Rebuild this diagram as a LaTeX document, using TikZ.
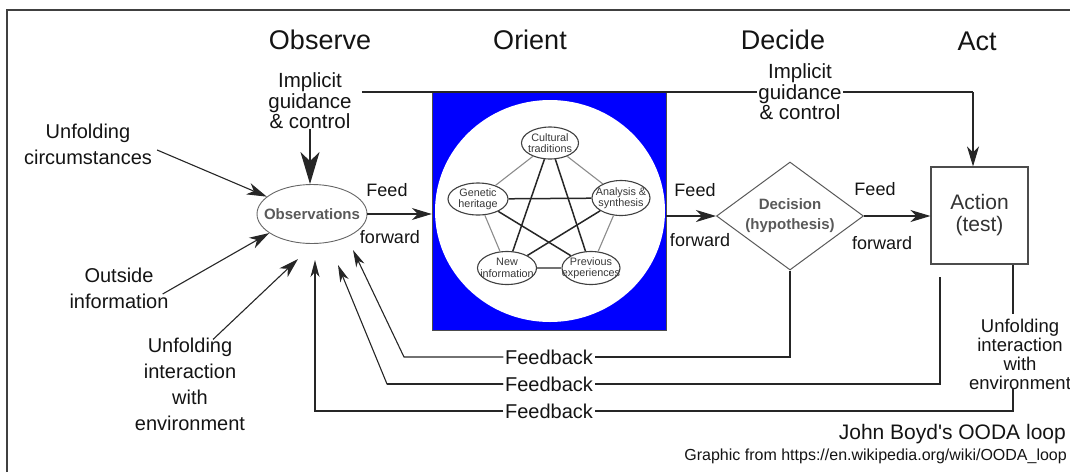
\documentclass[tikz,border=0pt]{standalone}
\usepackage{fontspec}
\setmainfont{Liberation Sans}
\usetikzlibrary{arrows.meta,shapes.geometric,calc}
\newcommand\fsz[2]{\fontsize{#1}{#2}\selectfont}
\begin{document}
\begin{tikzpicture}[x=1pt,y=-1pt,
  ln/.style={draw=black!85, line width=1.1pt},
  arr/.style={ln,-{Stealth[length=20pt,width=12pt,inset=6pt]}},
  arrbig/.style={ln,line width=1.6pt,-{Stealth[length=32pt,width=19pt,inset=9pt]}},
  arrfb/.style={ln,-{Stealth[length=17pt,width=9pt,inset=5pt]}},
  txt/.style={inner sep=0pt,align=center,text=black!92},
  ttl/.style={txt,font=\fsz{27}{30}},
  lab/.style={txt,font=\fsz{20}{26}},
  gd/.style={txt,font=\fsz{20.5}{20.5}},
  ff/.style={txt,font=\fsz{18}{18}},
  fbk/.style={txt,font=\fsz{20}{20},inner sep=1.5pt},
  pnode/.style={ellipse,draw=black!75,line width=1.1pt,fill=white,minimum width=58pt,minimum height=32pt,inner sep=0pt},
  ptx/.style={txt,font=\fsz{10.8}{11.5},text=black!78},
  gtx/.style={txt,font=\bfseries\fsz{15}{20},text=black!65},
  pedge/.style={draw=black!45,line width=1.1pt},
  sedge/.style={draw=black!85,line width=1.5pt},
]
\useasboundingbox (0,0) rectangle (1070,472);
% frame
\draw[draw=black!75,line width=1.3pt] (7,472) -- (7,10) -- (1070,10);

% titles
\node[ttl] (tObs) at (320,40) {Observe};
\node[ttl] (tOri) at (530,40) {Orient};
\node[ttl] (tDec) at (783,40) {Decide};
\node[ttl] (tAct) at (977,41) {Act};

% orient block
\node[draw=black!70,fill=blue,minimum width=234pt,minimum height=238pt,inner sep=0pt] (orient) at (549,211) {};
\node[ellipse,fill=white,minimum width=230pt,minimum height=222pt,inner sep=0pt] (orc) at (550,211) {};
\node[pnode,minimum width=57pt,label={[ptx]center:Cultural\\traditions}] (cul) at (550,143) {};
\node[pnode,minimum width=60pt,label={[ptx]center:Genetic\\heritage}] (gen) at (478,199) {};
\node[pnode,minimum height=35pt,label={[ptx]center:Analysis \&\\synthesis}] (ana) at (621,198) {};
\node[pnode,minimum width=59pt,minimum height=33pt,label={[ptx]center:New\\information}] (new) at (507,268) {};
\node[pnode,minimum height=33pt,label={[ptx]center:Previous\\experiences}] (prev) at (591,268) {};
\draw[pedge] (cul) -- (gen);
\draw[pedge] (cul) -- (ana);
\draw[pedge] (gen) -- (new);
\draw[pedge] (ana) -- (prev);
\draw[pedge,draw=black!55,line width=1.4pt] (new) -- (prev);
\draw[sedge] (cul) -- (new);
\draw[sedge] (cul) -- (prev);
\draw[sedge] (gen) -- (ana);
\draw[sedge] (gen) -- (prev);
\draw[sedge] (ana) -- (new);

% main nodes
\node[ellipse,draw=black!60,line width=0.9pt,minimum width=110pt,minimum height=59pt,inner sep=0pt,
      label={[gtx]center:Observations}] (obs) at (312,214) {};
\node[diamond,draw=black!65,line width=1pt,minimum width=147pt,minimum height=108pt,inner sep=0pt,
      label={[gtx]center:Decision\\(hypothesis)}] (dec) at (790,216) {};
\node[txt,draw=black!70,line width=1.1pt,minimum width=97pt,minimum height=97pt,
      font=\fsz{21}{22},text=black!80] (act) at (979.5,215.5) {Action\\(test)};

% feed forward
\draw[arr] (obs.east) -- (orient.west |- obs.east);
\draw[arr] (orient.east |- dec.west) -- (dec.west);
\draw[arr] (dec.east) -- (act.west |- dec.east);
\node[ff] (ffa1) at (387,190) {Feed};
\node[ff] (ffa2) at (390,237) {forward};
\node[ff] (ffb1) at (695,190) {Feed};
\node[ff] (ffb2) at (700,240) {forward};
\node[ff] (ffc1) at (875,189) {Feed};
\node[ff] (ffc2) at (882,243) {forward};

% implicit guidance
\node[gd] (implL) at (310,101) {Implicit\\guidance\\\& control};
\coordinate (gc) at (973,92);
\draw[ln] ($(implL.east)+(10,-9)$) -- (gc);
\draw[arr] (gc) -- (gc |- act.north);
\node[gd,fill=white,inner sep=1pt] (implR) at (800,92) {Implicit\\guidance\\\& control};
\draw[arrbig] (implL.south) -- (implL.south |- obs.north);

% inputs
\node[lab] (circ) at (88,144) {Unfolding\\circumstances};
\node[lab] (outs) at (119,288) {Outside\\information};
\node[lab] (uiL) at (190,384) {Unfolding\\interaction\\with\\environment};
\node[txt,font=\fsz{18.5}{19}] (uiR) at (1020,354) {Unfolding\\interaction\\with\\environment};
\draw[arr] ([shift={(5,6)}]circ.east) -- (obs.159);
\draw[arr] ([shift={(-6,6)}]outs.east) -- (obs.204);
\coordinate (inUI) at (298,259);
\draw[arr] ([shift={(23,2)}]uiL.north) -- (inUI);

% feedback
\node[fbk] (fb1) at (549,357) {Feedback};
\node[fbk] (fb2) at (549,384) {Feedback};
\node[fbk] (fb3) at (549,411) {Feedback};
\coordinate (inF1) at (353,250);
\coordinate (inF2) at (338,265);
\coordinate (inF3) at (315,260);
\coordinate (b1) at (404,357);
\coordinate (b2) at (387,384);
\coordinate (a2) at (940,277);
\draw[ln] (dec.south) |- (fb1.east);
\draw[arrfb] (fb1.west) -- (b1) -- (inF1);
\draw[ln] (a2) |- (fb2.east);
\draw[arrfb] (fb2.west) -- (b2) -- (inF2);
\draw[ln,line width=2pt] (fb2.west) -- (b2);
\draw[ln] ([shift={(-7,-2)}]uiR.south) |- (fb3.east);
\draw[arrfb] (fb3.west) -| (inF3);
\draw[ln] ([xshift=33.5pt]act.south) -- ([xshift=33.5pt,yshift=5pt]act.south |- uiR.north);

% credits
\node[txt,anchor=east,font=\fsz{21}{21}] (jb) at (1066,434) {John Boyd\textquotesingle s OODA loop};
\node[txt,anchor=east,font=\fsz{16}{16}] (src) at (1067,456) {Graphic from https://en.wikipedia.org/wiki/OODA\_loop};
\end{tikzpicture}
\end{document}
